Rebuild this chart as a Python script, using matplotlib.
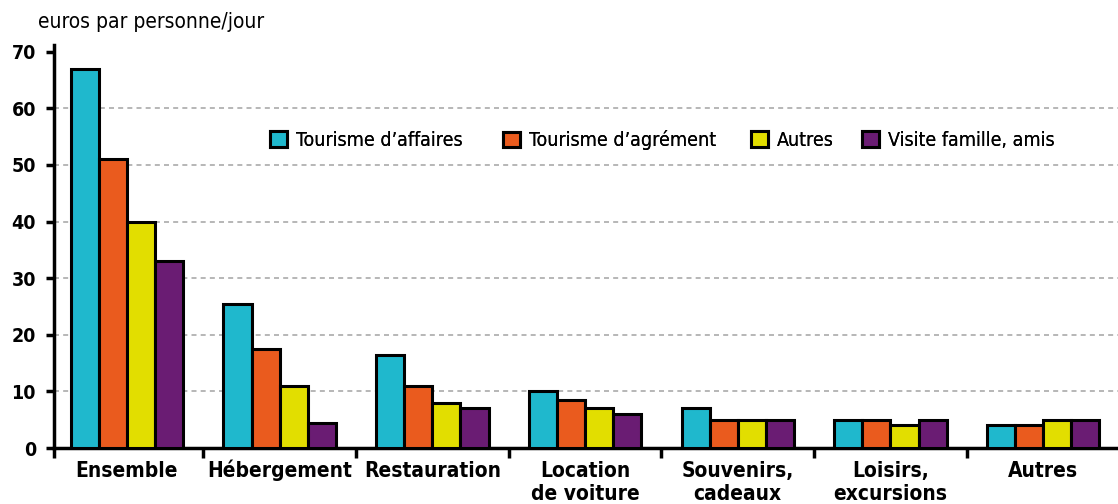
import numpy as np
import matplotlib
matplotlib.use('Agg')
import matplotlib.pyplot as plt
import matplotlib.transforms as mtransforms
from matplotlib.ticker import FixedLocator

plt.rcParams['font.family'] = ['DejaVu Sans']
plt.rcParams['font.stretch'] = 'condensed'

# data (euros par personne et par jour)
categories = ['Ensemble', 'Hébergement', 'Restauration', 'Location\nde voiture',
              'Souvenirs,\ncadeaux', 'Loisirs,\nexcursions', 'Autres']
series = ["Tourisme d\u2019affaires", "Tourisme d\u2019agrément", 'Autres', 'Visite famille, amis']
affaires = [67, 25.5, 16.5, 10, 7, 5, 4]
agrement = [51, 17.5, 11, 8.5, 5, 5, 4]
autres = [40, 11, 8, 7, 5, 4, 5]
famille = [33, 4.5, 7, 6, 5, 5, 5]
colors = ['#1FB8CD', '#EA5B1E', '#E2DE00', '#6A1C73']
yticks = [0, 10, 20, 30, 40, 50, 60, 70]

W, H = 1118, 504
fig = plt.figure(figsize=(W / 100, H / 100), dpi=100)
ax = fig.add_axes([54 / W, 56 / H, 1 - 54 / W, 403 / H])

x = np.arange(len(categories))
w = 0.184
bars = []
for i, (vals, name, c) in enumerate(zip([affaires, agrement, autres, famille], series, colors)):
    b = ax.bar(x + (i - 1.5) * w, vals, width=w, color=c, edgecolor='black',
               linewidth=2.2, label=name, zorder=3)
    bars.append(b)

ax.set_xlim(-0.478, 6.49)
ax.set_ylim(0, 71.2)

# dashed gridlines (not at 0 nor 70)
for g in yticks[1:-1]:
    ax.axhline(g, color='#aaaaaa', linestyle=(0, (3, 2.5)), linewidth=1.2, zorder=1)

for side in ['top', 'right']:
    ax.spines[side].set_visible(False)
ax.spines['left'].set_linewidth(2.5)
ax.spines['bottom'].set_linewidth(2.5)

ax.set_yticks(yticks)
ax.set_yticklabels([str(t) for t in yticks], fontsize=14, fontweight='bold')
ax.tick_params(axis='y', length=6, width=2.5, pad=7)

# category labels: drawn line by line on a common baseline
ax.set_xticks(x)
ax.set_xticklabels([])
ax.tick_params(axis='x', which='major', length=0)
ax.xaxis.set_minor_locator(FixedLocator([-0.478] + list(x[:-1] + 0.5)))
ax.tick_params(axis='x', which='minor', length=7, width=2.5)
base = mtransforms.blended_transform_factory(ax.transData, ax.transAxes)
for xi, lab in zip(x, categories):
    for j, line in enumerate(lab.split('\n')):
        tr = mtransforms.offset_copy(base, fig=fig, x=0, y=-(29 + 23 * j), units='dots')
        ax.text(xi, 0, line, transform=tr, ha='center', va='baseline',
                fontsize=15, fontweight='bold', clip_on=False)

fig.text(38 / W, 1 - 12 / H, 'euros par personne/jour', fontsize=15, va='top', ha='left')

# legend entries placed one by one, as in the reference
leg_x = [270, 503, 751, 862]
for b, name, lx in zip(bars, series, leg_x):
    leg = fig.legend([b], [name], loc='center left', bbox_to_anchor=((lx - 7.5) / W, 1 - 140 / H),
                     frameon=False, fontsize=14, handlelength=0.85, handleheight=0.85,
                     handletextpad=0.45, borderaxespad=0)
    fig.add_artist(leg)

fig.savefig('out.png', dpi=100)
